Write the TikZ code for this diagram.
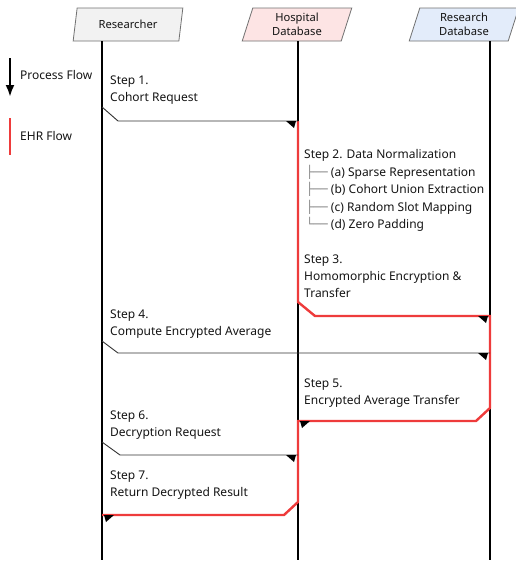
\documentclass[tikz,border=0pt]{standalone}
\usepackage{fontspec}
\setmainfont{Noto Sans}
\newfontfamily\treefont{DejaVu Sans}
\usetikzlibrary{shapes.geometric,arrows.meta}
\definecolor{ehr}{HTML}{EE3B3B}
\definecolor{txtc}{HTML}{141414}
\definecolor{fillres}{HTML}{F2F2F2}
\definecolor{fillhos}{HTML}{FDE4E4}
\definecolor{fillrdb}{HTML}{E3ECFA}
\definecolor{boxline}{HTML}{707070}
\definecolor{treec}{HTML}{888888}
\tikzset{
  head/.style={trapezium, trapezium left angle=75, trapezium right angle=105,
    trapezium stretches=true, minimum width=110pt, minimum height=33pt,
    draw=boxline, line width=0.8pt, inner sep=0pt, align=center,
    font=\fontsize{11.2}{13.5}\selectfont, text=txtc},
  txt/.style={anchor=base west, inner sep=0pt, font=\fontsize{12}{14}\selectfont, text=txtc},
  life/.style={line width=2pt, black},
  ehrline/.style={line width=2.4pt, ehr, line join=miter},
  msg/.style={line width=0.9pt, black!80},
}
\newcommand{\tipR}[1]{\fill[black] ([xshift=-12pt]#1) -- ([xshift=-2pt]#1) -- ([xshift=-4pt,yshift=-7pt]#1) -- cycle;}
\newcommand{\tipL}[1]{\fill[black] ([xshift=12pt]#1) -- ([xshift=2pt]#1) -- ([xshift=4pt,yshift=-7pt]#1) -- cycle;}
\begin{document}
\begin{tikzpicture}[x=1pt,y=-1pt]
\useasboundingbox (0,0) rectangle (516,562);
% headers
\node[head, fill=fillres] (res) at (128,24.5) {Researcher};
\node[head, fill=fillhos] (hos) at (297,24.5) {Hospital\\Database};
\node[head, fill=fillrdb] (rdb) at (464,24.5) {Research\\Database};
% lifeline coordinates
\coordinate (rT) at (102,41);  \coordinate (rB) at (102,560);
\coordinate (hT) at (298,41);  \coordinate (hB) at (298,560);
\coordinate (dT) at (490,41);  \coordinate (dB) at (490,560);
\draw[life] (rT) -- (rB);
\draw[life] (hT) -- (hB);
\draw[life] (dT) -- (dB);
% legend
\coordinate (lgA) at (10,58); \coordinate (lgB) at (10,97);
\draw[line width=2.3pt, -{Latex[length=12pt,width=9pt]}] (lgA) -- (lgB);
\node[txt] (lgP) at (20,79) {Process Flow};
\coordinate (lgC) at (10,118); \coordinate (lgD) at (10,155);
\draw[ehrline] (lgC) -- (lgD);
\node[txt] (lgE) at (20,140) {EHR Flow};
% EHR flow (red)
\coordinate (e1) at (298,121);
\coordinate (e2) at (298,302);
\coordinate (e3) at (315,316);
\coordinate (e4) at (490,316);
\coordinate (e5) at (490,408);
\coordinate (e6) at (476,421);
\coordinate (e7) at (298,421);
\coordinate (e8) at (298,502);
\coordinate (e9) at (284,515);
\coordinate (e10) at (102,515);
\draw[ehrline] (e1) -- (e2) -- (e3) -- (e4) -- (e5) -- (e6) -- (e7) -- (e8) -- (e9) -- (e10);
\tipR{e4}
\tipL{e7}
\tipL{e10}
% messages (black)
\coordinate (m1a) at (102,107); \coordinate (m1b) at (118,121); \coordinate (m1c) at (298,121);
\draw[msg] (m1a) -- (m1b) -- (m1c); \tipR{m1c}
\coordinate (m4a) at (102,341); \coordinate (m4b) at (118,353); \coordinate (m4c) at (490,353);
\draw[msg] (m4a) -- (m4b) -- (m4c); \tipR{m4c}
\coordinate (m6a) at (102,442); \coordinate (m6b) at (120,455); \coordinate (m6c) at (298,455);
\draw[msg] (m6a) -- (m6b) -- (m6c); \tipR{m6c}
% step texts
\node[txt] (s1a) at (110,84) {Step 1.};
\node[txt] (s1b) at (110,101) {Cohort Request};
\node[txt] (s2) at (304,158) {Step 2. Data Normalization};
\node[txt] (s2a) at (306,176) {{\treefont\color{treec}├──} (a) Sparse Representation};
\node[txt] (s2b) at (306,193) {{\treefont\color{treec}├──} (b) Cohort Union Extraction};
\node[txt] (s2c) at (306,211) {{\treefont\color{treec}├──} (c) Random Slot Mapping};
\node[txt] (s2d) at (306,228) {{\treefont\color{treec}└──} (d) Zero Padding};
\node[txt] (s3a) at (304,263) {Step 3.};
\node[txt] (s3b) at (304,280) {Homomorphic Encryption \&};
\node[txt] (s3c) at (304,297) {Transfer};
\node[txt] (s4a) at (110,318) {Step 4.};
\node[txt] (s4b) at (110,335) {Compute Encrypted Average};
\node[txt] (s5a) at (304,387) {Step 5.};
\node[txt] (s5b) at (304,404) {Encrypted Average Transfer};
\node[txt] (s6a) at (110,419) {Step 6.};
\node[txt] (s6b) at (110,436) {Decryption Request};
\node[txt] (s7a) at (110,479) {Step 7.};
\node[txt] (s7b) at (110,496) {Return Decrypted Result};
\end{tikzpicture}
\end{document}
